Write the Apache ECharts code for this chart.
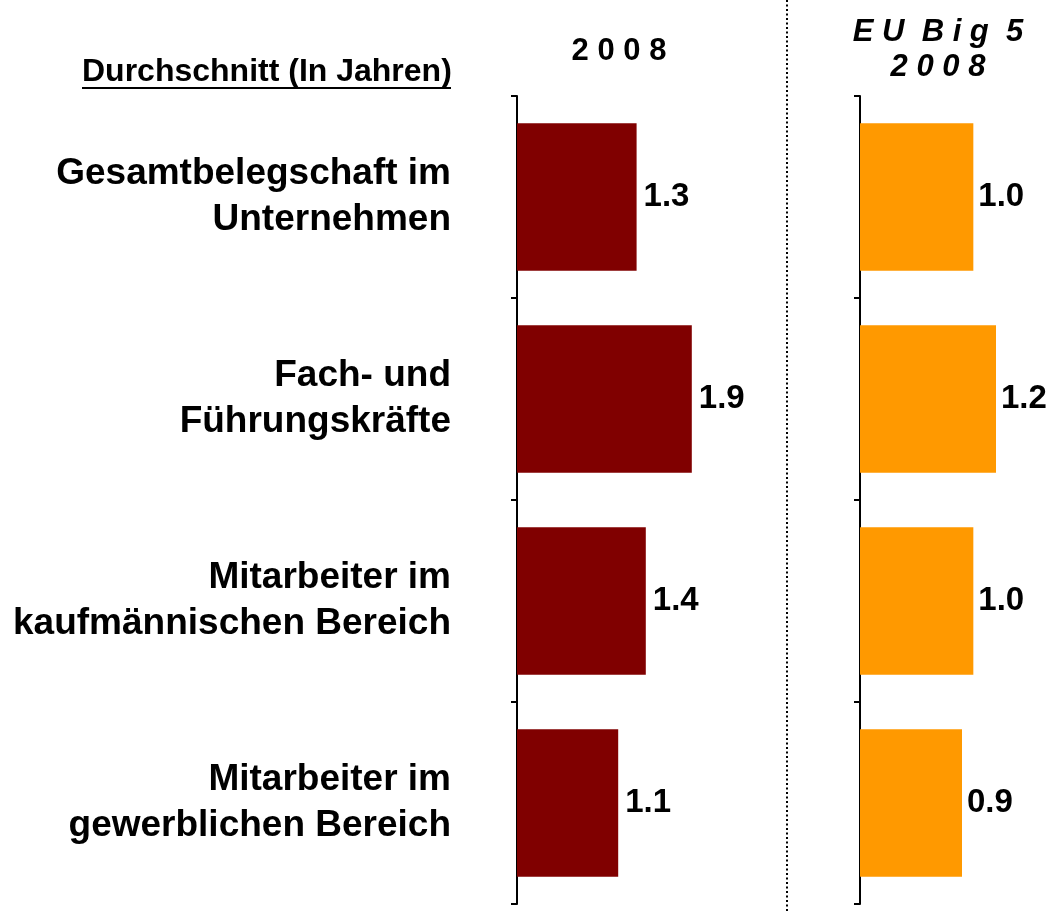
<!DOCTYPE html>
<html>
<head>
<meta charset="utf-8">
<script src="https://cdn.jsdelivr.net/npm/echarts@6/dist/echarts.min.js"></script>
<style>
  html, body { margin: 0; padding: 0; background: #fff; }
  #main { width: 1053px; height: 913px; }
</style>
</head>
<body>
<div id="main"></div>
<script>
var categories = [
  'Gesamtbelegschaft im\nUnternehmen',
  'Fach- und\nFührungskräfte',
  'Mitarbeiter im\nkaufmännischen Bereich',
  'Mitarbeiter im\ngewerblichen Bereich'
];
var values2008 = [1.3, 1.9, 1.4, 1.1];
var valuesEU = [1.0, 1.2, 1.0, 0.9];

var font = '"Liberation Sans", Arial, sans-serif';
var chart = echarts.init(document.getElementById('main'));

function valueLabel(dist) {
  return {
    show: true,
    position: 'right',
    distance: dist,
    fontFamily: font,
    fontWeight: 'bold',
    fontSize: 33,
    color: '#000',
    formatter: function (p) { return p.value.toFixed(1); }
  };
}

var option = {
  animation: false,
  backgroundColor: '#fff',
  title: [
    {
      text: '2 0 0 8',
      left: 614, top: 31,
      textAlign: 'center',
      textStyle: { fontFamily: font, fontWeight: 'bold', fontSize: 31, color: '#000' }
    },
    {
      text: 'E U  B i g  5\n2 0 0 8',
      left: 933, top: 10,
      textAlign: 'center',
      textStyle: { fontFamily: font, fontWeight: 'bold', fontStyle: 'italic', fontSize: 31, lineHeight: 35, color: '#000' }
    }
  ],
  graphic: [
    {
      type: 'text', left: 82, top: 56,
      style: { text: 'Durchschnitt (In Jahren)', font: 'bold 32px ' + font, fill: '#000' }
    },
    {
      type: 'line', shape: { x1: 82, y1: 88, x2: 451, y2: 88 },
      style: { stroke: '#000', lineWidth: 2 }
    },
    {
      type: 'line', shape: { x1: 787, y1: 0, x2: 787, y2: 913 },
      style: { stroke: '#000', lineWidth: 2, lineDash: [2, 2.5] }
    }
  ],
  grid: [
    { left: 517, width: 230, top: 96, bottom: 9 },
    { left: 860, width: 170, top: 96, bottom: 9 }
  ],
  xAxis: [
    { gridIndex: 0, type: 'value', min: 0, max: 2.5, show: false },
    { gridIndex: 1, type: 'value', min: 0, max: 1.5, show: false }
  ],
  yAxis: [
    {
      gridIndex: 0, type: 'category', data: categories, inverse: true,
      axisLine: { show: true, lineStyle: { color: '#000', width: 2 } },
      axisTick: { show: true, length: 6, lineStyle: { color: '#000', width: 2 } },
      axisLabel: {
        margin: 66, align: 'right',
        fontFamily: font, fontWeight: 'bold', fontSize: 37, lineHeight: 46, color: '#000'
      },
      splitLine: { show: false }
    },
    {
      gridIndex: 1, type: 'category', data: categories, inverse: true,
      axisLine: { show: true, lineStyle: { color: '#000', width: 2 } },
      axisTick: { show: true, length: 6, lineStyle: { color: '#000', width: 2 } },
      axisLabel: { show: false },
      splitLine: { show: false }
    }
  ],
  series: [
    {
      name: '2008', type: 'bar', xAxisIndex: 0, yAxisIndex: 0,
      data: values2008, barCategoryGap: '27%',
      itemStyle: { color: '#800000' },
      label: valueLabel(7)
    },
    {
      name: 'EU Big 5 2008', type: 'bar', xAxisIndex: 1, yAxisIndex: 1,
      data: valuesEU, barCategoryGap: '27%',
      itemStyle: { color: '#FF9900' },
      label: valueLabel(5)
    }
  ]
};

chart.setOption(option);
</script>
</body>
</html>
